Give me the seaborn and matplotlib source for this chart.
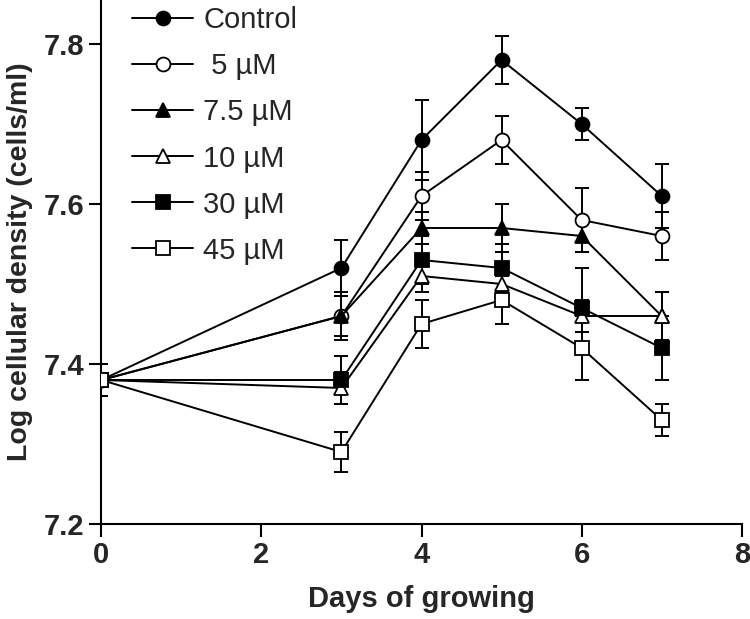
import numpy as np
import pandas as pd
import matplotlib
matplotlib.use("Agg")
import matplotlib.pyplot as plt
import seaborn as sns

# Datos
days = [0, 3, 4, 5, 6, 7]
labels = ["Control", " 5 \u00b5M", "7.5 \u00b5M", "10 \u00b5M", "30 \u00b5M", "45 \u00b5M"]

control = [7.38, 7.52, 7.68, 7.78, 7.70, 7.61]
um5 = [7.38, 7.46, 7.61, 7.68, 7.58, 7.56]
um7_5 = [7.38, 7.46, 7.57, 7.57, 7.56, 7.46]
um10 = [7.38, 7.37, 7.51, 7.50, 7.46, 7.46]
um30 = [7.38, 7.38, 7.53, 7.52, 7.47, 7.42]
um45 = [7.38, 7.29, 7.45, 7.48, 7.42, 7.33]

err_control = [0.02, 0.035, 0.05, 0.03, 0.02, 0.04]
err_um5 = [0.02, 0.03, 0.03, 0.03, 0.04, 0.03]
err_um7_5 = [0.02, 0.025, 0.02, 0.03, 0.02, 0.03]
err_um10 = [0.02, 0.02, 0.02, 0.02, 0.02, 0.03]
err_um30 = [0.02, 0.03, 0.03, 0.03, 0.05, 0.04]
err_um45 = [0.02, 0.025, 0.03, 0.03, 0.04, 0.02]

series = [control, um5, um7_5, um10, um30, um45]
errors = [err_control, err_um5, err_um7_5, err_um10, err_um30, err_um45]
markers = ["o", "o", "^", "^", "s", "s"]
filled = [True, False, True, False, True, False]

sns.set_theme(style="ticks")
plt.rcParams["font.family"] = ["Liberation Sans", "DejaVu Sans"]

fig = plt.figure(figsize=(7.5, 6.19), dpi=100)
ax = fig.add_axes([0.135, 0.1535, 0.854, 0.8465])

for vals, errs, lab, mk, fill in zip(series, errors, labels, markers, filled):
    df = pd.DataFrame({"day": days, "value": vals})
    ax.errorbar(days, vals, yerr=errs, fmt="none", ecolor="black",
                elinewidth=1.4, capsize=5, capthick=1.4, zorder=2)
    sns.lineplot(data=df, x="day", y="value", ax=ax, color="black", lw=1.4,
                 marker=mk, markersize=10,
                 markerfacecolor="black" if fill else "white",
                 markeredgecolor="black", markeredgewidth=1.3,
                 label=lab, zorder=3)

ax.set_xlim(0, 8)
ax.set_ylim(7.2, 7.855)
ax.set_xticks([0, 2, 4, 6, 8])
ax.set_yticks([7.2, 7.4, 7.6, 7.8])
for lbl in ax.get_xticklabels() + ax.get_yticklabels():
    lbl.set_fontweight("bold")
    lbl.set_fontsize(21)
ax.tick_params(axis="both", length=9, width=1.5, color="black", pad=3)
for side in ["top", "right"]:
    ax.spines[side].set_visible(False)
for side in ["left", "bottom"]:
    ax.spines[side].set_linewidth(1.5)
    ax.spines[side].set_color("black")

ax.set_xlabel("Days of growing", fontsize=21, fontweight="bold", labelpad=12)
ax.set_ylabel("Log cellular density (cells/ml)", fontsize=20.5, fontweight="bold", labelpad=8)

leg = ax.legend(loc="upper left", bbox_to_anchor=(0.048, 0.988), frameon=False,
                fontsize=21, handlelength=2.1, handletextpad=0.35,
                labelspacing=0.62, borderpad=0, borderaxespad=0)

fig.savefig("out.png", dpi=100)
